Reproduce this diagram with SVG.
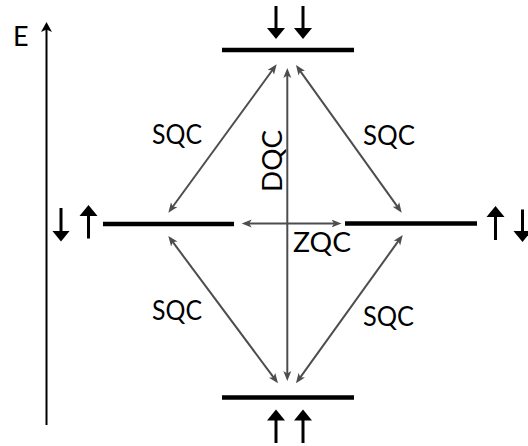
<svg xmlns="http://www.w3.org/2000/svg" width="528" height="446" viewBox="0 0 528 446">
<style>
.lbl{font-family:Lato,"Liberation Sans",sans-serif;font-size:27px;fill:#000}
.bar{stroke:#000;stroke-width:4.5}
.spin{stroke:#000;stroke-width:3;fill:none;marker-end:url(#spinHead)}
.conn{stroke:#4d4d4d;stroke-width:2;fill:none;marker-start:url(#cHead);marker-end:url(#cHead)}
</style>
<defs>
<marker id="spinHead" markerUnits="userSpaceOnUse" markerWidth="12" markerHeight="19" refX="6" refY="9" orient="auto" viewBox="0 0 12 18">
<path d="M0,0 L11,9 L0,18 Z" fill="#000"/>
</marker>
<marker id="cHead" markerUnits="userSpaceOnUse" markerWidth="11" markerHeight="9" refX="6" refY="4" orient="auto-start-reverse" viewBox="0 0 11 8">
<path d="M0,0 L10,4 L0,8 L2.5,4 Z" fill="#4d4d4d"/>
</marker>
<marker id="axHead" markerUnits="userSpaceOnUse" markerWidth="11" markerHeight="12" refX="7" refY="5.5" orient="auto" viewBox="0 0 11 11">
<path d="M0,0 L10,5.5 L0,11 L2.5,5.5 Z" fill="#000"/>
</marker>
</defs>

<g id="axis">
<line x1="46.5" y1="425" x2="46.5" y2="25" stroke="#000" stroke-width="2" marker-end="url(#axHead)"/>
<text class="lbl" x="13" y="45.5">E</text>
</g>

<g id="level-top">
<line class="bar" x1="222" y1="50" x2="354" y2="50"/>
<line class="spin" x1="276" y1="6" x2="276" y2="34"/>
<line class="spin" x1="303" y1="6" x2="303" y2="34"/>
</g>

<g id="level-left">
<line class="bar" x1="103" y1="224" x2="234" y2="224"/>
<line class="spin" x1="61" y1="208" x2="61" y2="236.5"/>
<line class="spin" x1="88.5" y1="238.5" x2="88.5" y2="210"/>
</g>

<g id="level-right">
<line class="bar" x1="345" y1="223.5" x2="477" y2="223.5"/>
<line class="spin" x1="495.5" y1="240" x2="495.5" y2="211"/>
<line class="spin" x1="522.5" y1="209.5" x2="522.5" y2="237"/>
</g>

<g id="level-bottom">
<line class="bar" x1="222" y1="397.5" x2="354" y2="397.5"/>
<line class="spin" x1="276" y1="443" x2="276" y2="414.5"/>
<line class="spin" x1="303" y1="443" x2="303" y2="414.5"/>
</g>

<g id="connectors">
<line class="conn" x1="274.3" y1="67.5" x2="170.7" y2="209.5"/>
<line class="conn" x1="298.3" y1="68.3" x2="399.4" y2="209.4"/>
<line class="conn" x1="170.7" y1="239.2" x2="275.6" y2="380.1"/>
<line class="conn" x1="400.4" y1="238.2" x2="298.3" y2="380.1"/>
<line class="conn" x1="287.3" y1="72" x2="287.3" y2="377"/>
<line class="conn" x1="245.7" y1="223.5" x2="337.5" y2="223.5"/>
</g>

<g id="labels">
<text class="lbl" x="152" y="143.5" textLength="50" lengthAdjust="spacingAndGlyphs">SQC</text>
<text class="lbl" x="363" y="145" textLength="52" lengthAdjust="spacingAndGlyphs">SQC</text>
<text class="lbl" x="152" y="320" textLength="50" lengthAdjust="spacingAndGlyphs">SQC</text>
<text class="lbl" x="363" y="326" textLength="51" lengthAdjust="spacingAndGlyphs">SQC</text>
<text class="lbl" x="293" y="252" textLength="58" lengthAdjust="spacingAndGlyphs">ZQC</text>
<text class="lbl" transform="translate(282,192) rotate(-90)" x="0" y="0" textLength="62" lengthAdjust="spacingAndGlyphs">DQC</text>
</g>
</svg>
